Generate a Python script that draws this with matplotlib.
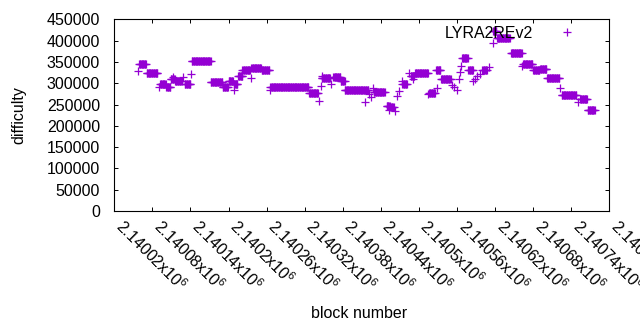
import numpy as np
import matplotlib
matplotlib.use('Agg')
import matplotlib.pyplot as plt

plt.rcParams['font.family'] = ['Liberation Sans', 'DejaVu Sans']
plt.rcParams['mathtext.default'] = 'regular'

# difficulty runs: blocks start..end share one difficulty
run_start = [2140057, 2140059, 2140071, 2140091, 2140092, 2140102, 2140109, 2140112, 2140116, 2140129,
             2140131, 2140141, 2140142, 2140172, 2140191, 2140200, 2140209, 2140208, 2140215, 2140222,
             2140235, 2140236, 2140252, 2140265, 2140266, 2140327, 2140342, 2140345, 2140347, 2140348,
             2140361, 2140365, 2140377, 2140383, 2140415, 2140422, 2140425, 2140428, 2140429, 2140449,
             2140453, 2140455, 2140463, 2140465, 2140469, 2140473, 2140474, 2140485, 2140487, 2140490,
             2140494, 2140515, 2140516, 2140528, 2140527, 2140535, 2140552, 2140555, 2140560, 2140563,
             2140565, 2140567, 2140568, 2140578, 2140586, 2140588, 2140592, 2140596, 2140600, 2140611,
             2140616, 2140617, 2140623, 2140645, 2140663, 2140664, 2140680, 2140691, 2140702, 2140722,
             2140725, 2140751, 2140754, 2140766]
run_end = [2140057, 2140070, 2140088, 2140091, 2140101, 2140108, 2140115, 2140112, 2140126, 2140129,
           2140140, 2140141, 2140172, 2140190, 2140199, 2140207, 2140209, 2140214, 2140222, 2140234,
           2140235, 2140251, 2140264, 2140265, 2140326, 2140341, 2140342, 2140345, 2140360, 2140348,
           2140361, 2140376, 2140383, 2140420, 2140415, 2140422, 2140425, 2140428, 2140446, 2140454,
           2140453, 2140460, 2140463, 2140465, 2140469, 2140473, 2140481, 2140485, 2140493, 2140490,
           2140514, 2140515, 2140525, 2140528, 2140534, 2140550, 2140552, 2140555, 2140560, 2140563,
           2140565, 2140567, 2140577, 2140585, 2140586, 2140588, 2140592, 2140596, 2140607, 2140611,
           2140616, 2140622, 2140643, 2140662, 2140663, 2140679, 2140690, 2140701, 2140721, 2140722,
           2140748, 2140751, 2140765, 2140777]
run_value = [328000, 344000, 325000, 290000, 297000, 292000, 309000, 315000, 305000, 315000,
             299000, 321000, 353000, 304000, 292000, 306000, 285000, 297000, 316000, 330000,
             313000, 335000, 330000, 285000, 290000, 276000, 258000, 293000, 313000, 316000,
             299000, 315000, 306000, 283000, 255000, 274000, 268000, 288000, 279000, 247000,
             238000, 243000, 235000, 270000, 282000, 305000, 299000, 323000, 316000, 309000,
             323000, 274000, 277000, 288000, 330000, 311000, 295000, 290000, 284000, 311000,
             327000, 341000, 358000, 330000, 305000, 311000, 316000, 322000, 332000, 338000,
             395000, 422000, 407000, 370000, 340000, 346000, 330000, 334000, 313000, 289000,
             273000, 256000, 264000, 236000]

x_ticks = [2140020 + 60 * i for i in range(14)]
x_tick_labels = ['2.14002x10$^{6}$', '2.14008x10$^{6}$', '2.14014x10$^{6}$', '2.1402x10$^{6}$',
                 '2.14026x10$^{6}$', '2.14032x10$^{6}$', '2.14038x10$^{6}$', '2.14044x10$^{6}$',
                 '2.1405x10$^{6}$', '2.14056x10$^{6}$', '2.14062x10$^{6}$', '2.14068x10$^{6}$',
                 '2.14074x10$^{6}$', '2.1408x10$^{6}$']
y_ticks = [0, 50000, 100000, 150000, 200000, 250000, 300000, 350000, 400000, 450000]

blocks = []
diffs = []
for s, e, v in zip(run_start, run_end, run_value):
    for b in range(s, e + 1):
        blocks.append(b)
        diffs.append(v)

fs = 11.5
fig = plt.figure(figsize=(6.4, 3.3), dpi=100)
ax = fig.add_axes([0.1786, 0.3606, 0.7734, 0.5809])

ax.plot(blocks, diffs, linestyle='none', marker='+', markersize=5.4, markeredgewidth=0.9,
        color='#9400d3', label='LYRA2REv2')

ax.set_xlim(2140020, 2140800)
ax.set_ylim(0, 450000)
ax.set_xticks(x_ticks)
ax.set_xticklabels(x_tick_labels, rotation=-45, ha='left', va='baseline', rotation_mode='anchor')
ax.set_yticks(y_ticks)
ax.set_yticklabels([str(v) for v in y_ticks])
ax.tick_params(direction='in', top=True, right=True, length=3, width=0.7, labelsize=fs)
ax.tick_params(axis='y', pad=10.3)
ax.tick_params(axis='x', pad=12)
for sp in ax.spines.values():
    sp.set_linewidth(0.8)

ax.set_xlabel('block number', fontsize=fs)
ax.set_ylabel('difficulty', fontsize=fs)
ax.xaxis.set_label_coords(0.494, -0.496)
ax.yaxis.set_label_coords(-0.178, 0.5)

ax.legend(loc='upper right', bbox_to_anchor=(0.947, 0.966), frameon=False, markerfirst=False,
          numpoints=1, handlelength=2, handletextpad=1.125, borderpad=0, borderaxespad=0,
          fontsize=fs)

fig.savefig('out.png', dpi=100)
